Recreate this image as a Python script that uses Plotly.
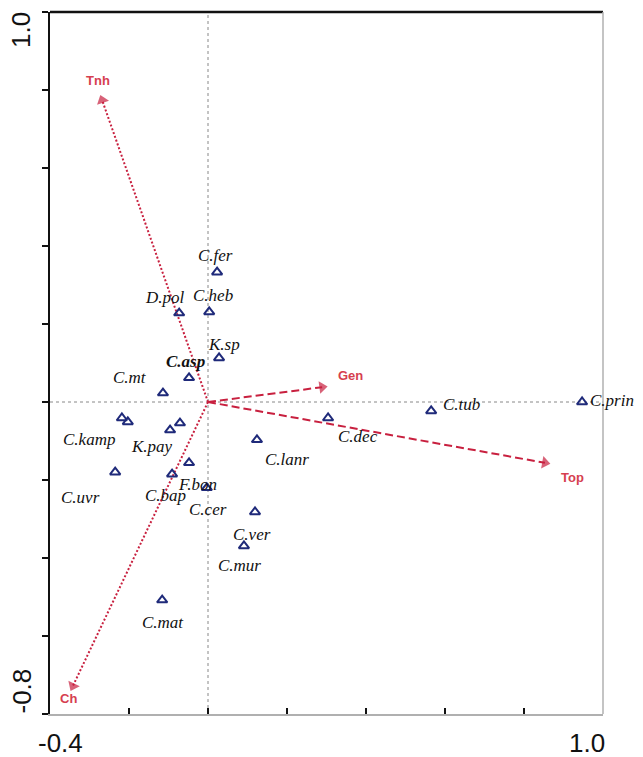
import plotly.graph_objects as go

# Species scores (axis 1, axis 2)
species = ["C.fer", "D.pol", "C.heb", "K.sp", "C.asp", "C.mt", "C.kamp", "C.karg",
           "K.pay", "C.pay", "C.uvr", "C.bap", "F.bon", "C.cer", "C.lanr", "C.ver",
           "C.mur", "C.mat", "C.dec", "C.tub", "C.prin"]
sp_x = [0.023, -0.073, 0.003, 0.028, -0.048, -0.114, -0.218, -0.203,
        -0.096, -0.071, -0.235, -0.091, -0.048, -0.003, 0.124, 0.119,
        0.091, -0.116, 0.304, 0.565, 0.947]
sp_y = [0.333, 0.228, 0.231, 0.113, 0.062, 0.023, -0.041, -0.051,
        -0.072, -0.054, -0.180, -0.185, -0.156, -0.220, -0.097, -0.282,
        -0.369, -0.508, -0.041, -0.023, 0.000]
# species whose label is printed on the plot
labelled = [True, True, True, True, True, True, True, False,
            True, False, True, True, True, True, True, True,
            True, True, True, True, True]

# Environmental variable biplot scores
env = ["Tnh", "Gen", "Top", "Ch"]
env_x = [-0.268, 0.289, 0.853, -0.342]
env_y = [0.774, 0.038, -0.156, -0.728]

# Axis limits and end labels
x_range = [-0.4, 1.0]
y_range = [-0.8, 1.0]
tick_step = 0.2

# label offsets in pixels (dx right, dy down)
sp_offsets = [(-2, -17), (-14, -16), (4, -16), (5, -13), (-4, -16), (-33, -16),
              (-33, 22), (-38, 18), (-18, 16), (-34, 18), (-35, 25), (-7, 21),
              (8, 22), (1, 22), (30, 20), (-3, 23), (-4, 20), (1, 22),
              (30, 19), (30, -6), (6, -2)]
env_offsets = [(-4, -20), (28, -12), (28, 15), (-4, 13)]
env_dash = ["2px,2px", "8px,4px", "8px,4px", "2px,2px"]

RED = "#c8203f"
LABEL_RED = "#d6404f"
NAVY = "#1f2a7a"

fig = go.Figure()

# reference lines through the origin
fig.add_shape(type="line", x0=0, x1=0, y0=y_range[0], y1=y_range[1],
              line=dict(color="#888888", width=1, dash="dot"), layer="below")
fig.add_shape(type="line", x0=x_range[0], x1=x_range[1], y0=0, y1=0,
              line=dict(color="#888888", width=1, dash="dot"), layer="below")

# environmental arrows
for name, ex, ey, dash in zip(env, env_x, env_y, env_dash):
    fig.add_trace(go.Scatter(
        x=[0, ex], y=[0, ey], mode="lines+markers",
        line=dict(color=RED, width=2, dash=dash),
        marker=dict(symbol=["circle", "triangle-up"], size=[0, 11], color=RED,
                    angleref="previous", line=dict(width=0)),
        hoverinfo="skip", showlegend=False))

# species triangles
fig.add_trace(go.Scatter(
    x=sp_x, y=sp_y, mode="markers",
    marker=dict(symbol="triangle-up-open", size=9, color=NAVY,
                line=dict(color=NAVY, width=2)),
    text=species, hoverinfo="text", showlegend=False))

annotations = []
for name, sx, sy, (dx, dy), show in zip(species, sp_x, sp_y, sp_offsets, labelled):
    if not show:
        continue
    txt = f"<i>{name}</i>"
    if name == "C.asp":
        txt = f"<b><i>{name}</i></b>"
    anchor = "left" if name == "C.prin" else "center"
    annotations.append(dict(x=sx, y=sy, xref="x", yref="y", text=txt,
                            showarrow=False, xshift=dx, yshift=-dy, xanchor=anchor,
                            font=dict(family="Liberation Serif", size=17, color="#111111")))

for name, ex, ey, (dx, dy) in zip(env, env_x, env_y, env_offsets):
    annotations.append(dict(x=ex, y=ey, xref="x", yref="y", text=f"<b>{name}</b>",
                            showarrow=False, xshift=dx, yshift=-dy,
                            font=dict(family="Liberation Sans", size=13, color=LABEL_RED)))

# axis end labels
end_font = dict(family="Liberation Sans", size=26, color="#111111")
annotations += [
    dict(x=x_range[0], y=0, xref="x", yref="paper", text=f"{x_range[0]:.1f}",
         showarrow=False, xanchor="left", yanchor="top", xshift=-14, yshift=-12, font=end_font),
    dict(x=x_range[1], y=0, xref="x", yref="paper", text=f"{x_range[1]:.1f}",
         showarrow=False, xanchor="right", yanchor="top", xshift=4, yshift=-12, font=end_font),
    dict(x=0, y=y_range[1], xref="paper", yref="y", text=f"{y_range[1]:.1f}",
         showarrow=False, textangle=-90, xanchor="right", yanchor="top", xshift=-12, yshift=2,
         font=end_font),
    dict(x=0, y=y_range[0], xref="paper", yref="y", text=f"{y_range[0]:.1f}",
         showarrow=False, textangle=-90, xanchor="right", yanchor="bottom", xshift=-12, yshift=-2,
         font=end_font),
]

# top and right frame edges
fig.add_shape(type="line", xref="paper", yref="paper", x0=0, x1=1, y0=1, y1=1,
              line=dict(color="#111111", width=2.5))
fig.add_shape(type="line", xref="paper", yref="paper", x0=1, x1=1, y0=0, y1=1,
              line=dict(color="#b0b0b0", width=1.5))

n_x = round((x_range[1] - x_range[0]) / tick_step)
n_y = round((y_range[1] - y_range[0]) / tick_step)
x_ticks = [round(x_range[0] + i * tick_step, 2) for i in range(n_x + 1)]
y_ticks = [round(y_range[0] + i * tick_step, 2) for i in range(n_y + 1)]

fig.update_layout(
    width=643, height=757,
    margin=dict(l=50, r=40, t=12, b=43),
    paper_bgcolor="white", plot_bgcolor="white",
    annotations=annotations,
    xaxis=dict(range=x_range, tickvals=x_ticks, ticktext=[""] * len(x_ticks),
               ticks="inside", ticklen=6, tickwidth=2, tickcolor="#111111",
               showline=True, linecolor="#b0b0b0", linewidth=1.5,
               showgrid=False, zeroline=False),
    yaxis=dict(range=y_range, tickvals=y_ticks, ticktext=[""] * len(y_ticks),
               ticks="outside", ticklen=6, tickwidth=2, tickcolor="#111111",
               showline=True, linecolor="#111111", linewidth=2,
               showgrid=False, zeroline=False),
)

fig.write_html("out.html")
